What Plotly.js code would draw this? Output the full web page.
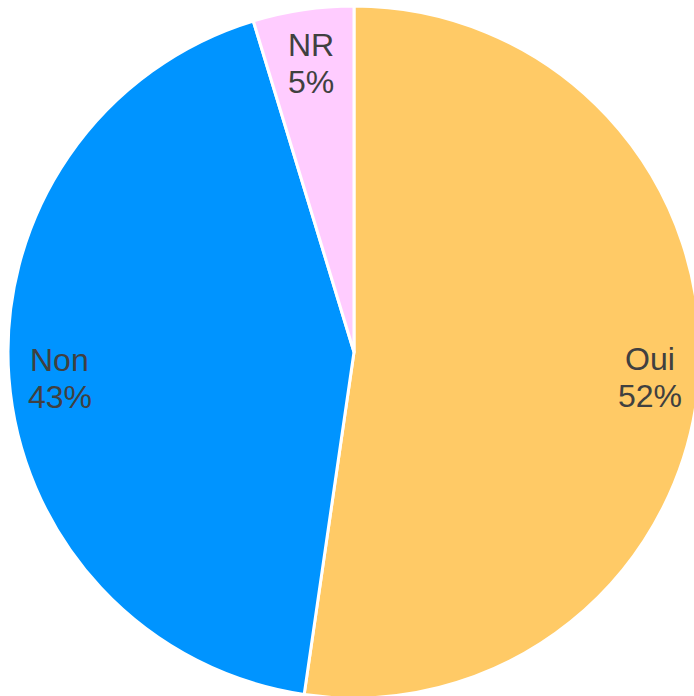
<!DOCTYPE html>
<html>
<head>
<meta charset="utf-8">
<script src="https://cdn.plot.ly/plotly-3.0.1.min.js"></script>
<style>
html, body { margin: 0; padding: 0; overflow: hidden; background: #fff; }
#chart { width: 720px; height: 700px; }
</style>
</head>
<body>
<div id="chart"></div>
<script>
const labels = ['Oui', 'Non', 'NR'];
const values = [52.3, 43.0, 4.7];
const colors = ['#FFCA66', '#0094FF', '#FFCCFF'];

const W = 720, H = 700;
const cx = 354, cy = 352, R = 346;

const total = values.reduce((a, b) => a + b, 0);
const annotations = [];
let cum = 0;
const font = { family: 'Liberation Sans, Arial, sans-serif', size: 32, color: '#404040' };
const K = 296, ox = 1, oy = 4;
values.forEach((v, i) => {
  const th = (cum + v / 2) / total * 2 * Math.PI;
  cum += v;
  const px = cx + K * Math.sin(th) + ox;
  const py = cy - K * Math.cos(th) + oy;
  const pct = Math.round(v / total * 100) + '%';
  annotations.push({ x: px / W, y: 1 - (py - 18.5) / H, xref: 'paper', yref: 'paper',
    text: labels[i], showarrow: false, xanchor: 'center', yanchor: 'middle', font: font });
  annotations.push({ x: px / W, y: 1 - (py + 18.5) / H, xref: 'paper', yref: 'paper',
    text: pct, showarrow: false, xanchor: 'center', yanchor: 'middle', font: font });
});

const data = [{
  type: 'pie',
  labels: labels,
  values: values,
  sort: false,
  direction: 'clockwise',
  rotation: 0,
  textinfo: 'none',
  hoverinfo: 'label+percent',
  marker: { colors: colors, line: { color: '#ffffff', width: 3 } },
  domain: { x: [(cx - R) / W, (cx + R) / W], y: [1 - (cy + R) / H, 1 - (cy - R) / H] }
}];

const layout = {
  width: W, height: H,
  margin: { l: 0, r: 0, t: 0, b: 0, pad: 0 },
  showlegend: false,
  paper_bgcolor: '#ffffff',
  annotations: annotations
};

Plotly.newPlot('chart', data, layout, { displayModeBar: false, staticPlot: true });
</script>
</body>
</html>
